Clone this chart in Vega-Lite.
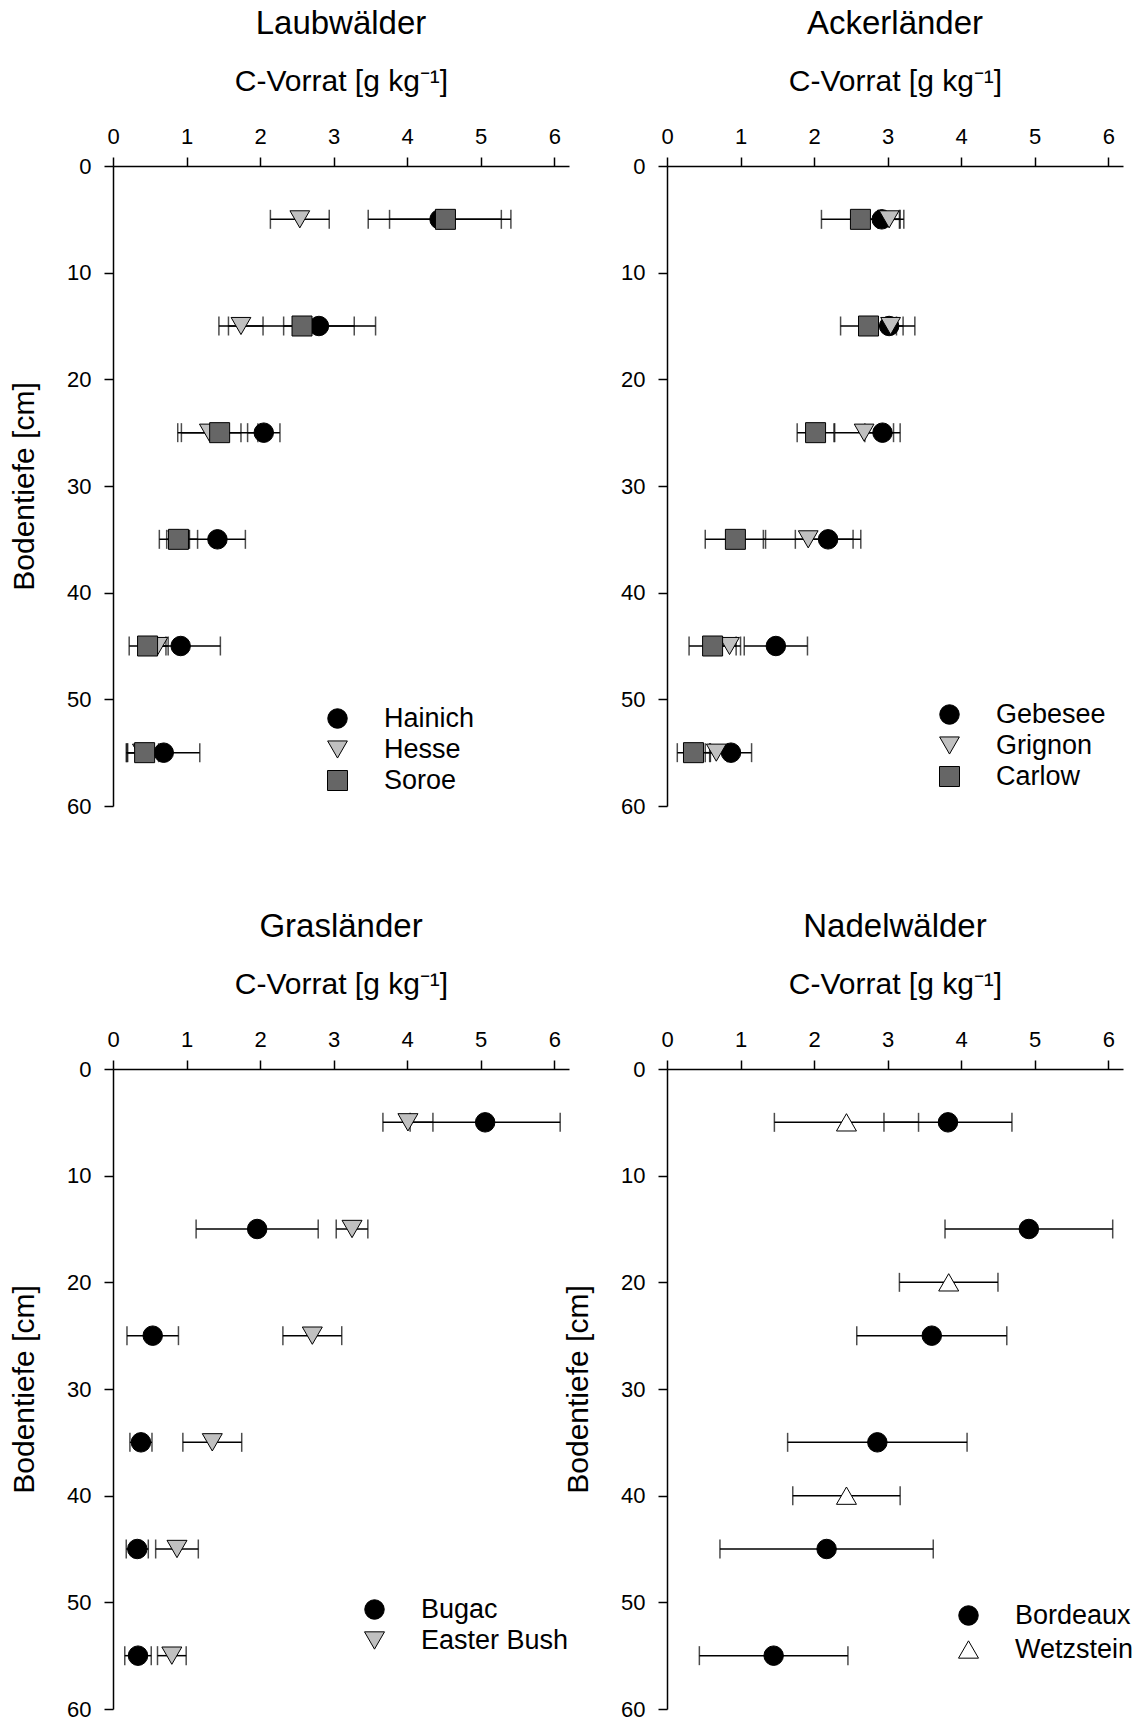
{
  "$schema": "https://vega.github.io/schema/vega-lite/v6.json",
  "autosize": {"type": "pad"},
  "padding": {"left": 9, "top": 8, "right": 0, "bottom": 0},
  "background": "white",
  "datasets": {
    "laub": [
      {"site": "Hainich", "depth": 5, "c": 4.44, "err": 0.97},
      {"site": "Hainich", "depth": 15, "c": 2.80, "err": 0.48},
      {"site": "Hainich", "depth": 25, "c": 2.05, "err": 0.22},
      {"site": "Hainich", "depth": 35, "c": 1.42, "err": 0.38},
      {"site": "Hainich", "depth": 45, "c": 0.92, "err": 0.54},
      {"site": "Hainich", "depth": 55, "c": 0.69, "err": 0.49},
      {"site": "Hesse", "depth": 5, "c": 2.54, "err": 0.40},
      {"site": "Hesse", "depth": 15, "c": 1.74, "err": 0.30},
      {"site": "Hesse", "depth": 25, "c": 1.31, "err": 0.43},
      {"site": "Hesse", "depth": 35, "c": 0.88, "err": 0.15},
      {"site": "Hesse", "depth": 45, "c": 0.61, "err": 0.14},
      {"site": "Hesse", "depth": 55, "c": 0.40, "err": 0.22},
      {"site": "Soroe", "depth": 5, "c": 4.52, "err": 0.76},
      {"site": "Soroe", "depth": 15, "c": 2.57, "err": 1.00},
      {"site": "Soroe", "depth": 25, "c": 1.45, "err": 0.52},
      {"site": "Soroe", "depth": 35, "c": 0.89, "err": 0.26},
      {"site": "Soroe", "depth": 45, "c": 0.47, "err": 0.25},
      {"site": "Soroe", "depth": 55, "c": 0.43, "err": 0.24}
    ],
    "acker": [
      {"site": "Gebesee", "depth": 5, "c": 2.92, "err": 0.30},
      {"site": "Gebesee", "depth": 15, "c": 3.02, "err": 0.35},
      {"site": "Gebesee", "depth": 25, "c": 2.93, "err": 0.24},
      {"site": "Gebesee", "depth": 35, "c": 2.19, "err": 0.445},
      {"site": "Gebesee", "depth": 45, "c": 1.48, "err": 0.43},
      {"site": "Gebesee", "depth": 55, "c": 0.87, "err": 0.28},
      {"site": "Grignon", "depth": 5, "c": 3.02, "err": 0.15},
      {"site": "Grignon", "depth": 15, "c": 3.04, "err": 0.17},
      {"site": "Grignon", "depth": 25, "c": 2.68, "err": 0.40},
      {"site": "Grignon", "depth": 35, "c": 1.92, "err": 0.61},
      {"site": "Grignon", "depth": 45, "c": 0.85, "err": 0.15},
      {"site": "Grignon", "depth": 55, "c": 0.67, "err": 0.15},
      {"site": "Carlow", "depth": 5, "c": 2.63, "err": 0.53},
      {"site": "Carlow", "depth": 15, "c": 2.74, "err": 0.38},
      {"site": "Carlow", "depth": 25, "c": 2.02, "err": 0.25},
      {"site": "Carlow", "depth": 35, "c": 0.93, "err": 0.41},
      {"site": "Carlow", "depth": 45, "c": 0.62, "err": 0.32},
      {"site": "Carlow", "depth": 55, "c": 0.36, "err": 0.22}
    ],
    "gras": [
      {"site": "Bugac", "depth": 5, "c": 5.06, "err": 1.02},
      {"site": "Bugac", "depth": 15, "c": 1.96, "err": 0.83},
      {"site": "Bugac", "depth": 25, "c": 0.54, "err": 0.35},
      {"site": "Bugac", "depth": 35, "c": 0.38, "err": 0.15},
      {"site": "Bugac", "depth": 45, "c": 0.33, "err": 0.15},
      {"site": "Bugac", "depth": 55, "c": 0.34, "err": 0.18},
      {"site": "Easter Bush", "depth": 5, "c": 4.01, "err": 0.34},
      {"site": "Easter Bush", "depth": 15, "c": 3.25, "err": 0.215},
      {"site": "Easter Bush", "depth": 25, "c": 2.71, "err": 0.40},
      {"site": "Easter Bush", "depth": 35, "c": 1.35, "err": 0.40},
      {"site": "Easter Bush", "depth": 45, "c": 0.87, "err": 0.29},
      {"site": "Easter Bush", "depth": 55, "c": 0.80, "err": 0.195}
    ],
    "nadel": [
      {"site": "Bordeaux", "depth": 5, "c": 3.82, "err": 0.87},
      {"site": "Bordeaux", "depth": 15, "c": 4.92, "err": 1.14},
      {"site": "Bordeaux", "depth": 25, "c": 3.60, "err": 1.02},
      {"site": "Bordeaux", "depth": 35, "c": 2.86, "err": 1.22},
      {"site": "Bordeaux", "depth": 45, "c": 2.17, "err": 1.45},
      {"site": "Bordeaux", "depth": 55, "c": 1.45, "err": 1.01},
      {"site": "Wetzstein", "depth": 5, "c": 2.44, "err": 0.98},
      {"site": "Wetzstein", "depth": 20, "c": 3.83, "err": 0.67},
      {"site": "Wetzstein", "depth": 40, "c": 2.44, "err": 0.73}
    ]
  },
  "columns": 2,
  "bounds": "flush",
  "spacing": {"row": 263, "column": 98},
  "resolve": {
    "scale": {"x": "independent", "y": "independent", "shape": "independent", "fill": "independent", "size": "independent"},
    "legend": {"shape": "independent", "fill": "independent", "size": "independent"},
    "axis": {"x": "independent", "y": "independent"}
  },
  "concat": [
    {
      "title": {"text": "Laubwälder"},
      "width": 456, "height": 640,
      "data": {"name": "laub"},
      "layer": [
        {
          "mark": {"type": "errorbar", "ticks": {"size": 19, "thickness": 1.5, "color": "black"}, "rule": {"strokeWidth": 1.5, "color": "black"}},
          "encoding": {
            "x": {"field": "c", "type": "quantitative", "scale": {"domain": [0, 6.2], "nice": false, "zero": false}, "axis": {"orient": "top", "title": "C-Vorrat [g kg⁻¹]", "values": [0, 1, 2, 3, 4, 5, 6], "format": "d"}},
            "xError": {"field": "err"},
            "y": {"field": "depth", "type": "quantitative", "scale": {"domain": [0, 60], "reverse": true, "nice": false}, "axis": {"title": "Bodentiefe [cm]", "values": [0, 10, 20, 30, 40, 50, 60], "format": "d"}}
          }
        },
        {
          "mark": {"type": "point", "filled": true, "stroke": "black", "strokeWidth": 1, "opacity": 1},
          "encoding": {
            "x": {"field": "c", "type": "quantitative"},
            "y": {"field": "depth", "type": "quantitative"},
            "shape": {"field": "site", "type": "nominal", "scale": {"domain": ["Hainich", "Hesse", "Soroe"], "range": ["circle", "triangle-down", "square"]}, "legend": {"legendX": 211, "legendY": 539, "encode": {"symbols": {"update": {"stroke": {"value": "black"}, "strokeWidth": {"value": 1}}}}}},
            "fill": {"field": "site", "type": "nominal", "scale": {"domain": ["Hainich", "Hesse", "Soroe"], "range": ["black", "#c0c0c0", "#666666"]}, "legend": {"legendX": 211, "legendY": 539, "encode": {"symbols": {"update": {"stroke": {"value": "black"}, "strokeWidth": {"value": 1}}}}}},
            "size": {"field": "site", "type": "nominal", "scale": {"domain": ["Hainich", "Hesse", "Soroe"], "range": [380, 400, 290]}, "legend": {"legendX": 211, "legendY": 539, "encode": {"symbols": {"update": {"stroke": {"value": "black"}, "strokeWidth": {"value": 1}}}}}}
          }
        }
      ]
    },
    {
      "title": {"text": "Ackerländer"},
      "width": 456, "height": 640,
      "data": {"name": "acker"},
      "layer": [
        {
          "mark": {"type": "errorbar", "ticks": {"size": 19, "thickness": 1.5, "color": "black"}, "rule": {"strokeWidth": 1.5, "color": "black"}},
          "encoding": {
            "x": {"field": "c", "type": "quantitative", "scale": {"domain": [0, 6.2], "nice": false, "zero": false}, "axis": {"orient": "top", "title": "C-Vorrat [g kg⁻¹]", "values": [0, 1, 2, 3, 4, 5, 6], "format": "d"}},
            "xError": {"field": "err"},
            "y": {"field": "depth", "type": "quantitative", "scale": {"domain": [0, 60], "reverse": true, "nice": false}, "axis": {"title": null, "values": [0, 10, 20, 30, 40, 50, 60], "format": "d"}}
          }
        },
        {
          "mark": {"type": "point", "filled": true, "stroke": "black", "strokeWidth": 1, "opacity": 1},
          "encoding": {
            "x": {"field": "c", "type": "quantitative"},
            "y": {"field": "depth", "type": "quantitative"},
            "shape": {"field": "site", "type": "nominal", "scale": {"domain": ["Gebesee", "Grignon", "Carlow"], "range": ["circle", "triangle-down", "square"]}, "legend": {"legendX": 269, "legendY": 535, "encode": {"symbols": {"update": {"stroke": {"value": "black"}, "strokeWidth": {"value": 1}}}}}},
            "fill": {"field": "site", "type": "nominal", "scale": {"domain": ["Gebesee", "Grignon", "Carlow"], "range": ["black", "#c0c0c0", "#666666"]}, "legend": {"legendX": 269, "legendY": 535, "encode": {"symbols": {"update": {"stroke": {"value": "black"}, "strokeWidth": {"value": 1}}}}}},
            "size": {"field": "site", "type": "nominal", "scale": {"domain": ["Gebesee", "Grignon", "Carlow"], "range": [380, 400, 290]}, "legend": {"legendX": 269, "legendY": 535, "encode": {"symbols": {"update": {"stroke": {"value": "black"}, "strokeWidth": {"value": 1}}}}}}
          }
        }
      ]
    },
    {
      "title": {"text": "Grasländer"},
      "width": 456, "height": 640,
      "data": {"name": "gras"},
      "layer": [
        {
          "mark": {"type": "errorbar", "ticks": {"size": 19, "thickness": 1.5, "color": "black"}, "rule": {"strokeWidth": 1.5, "color": "black"}},
          "encoding": {
            "x": {"field": "c", "type": "quantitative", "scale": {"domain": [0, 6.2], "nice": false, "zero": false}, "axis": {"orient": "top", "title": "C-Vorrat [g kg⁻¹]", "values": [0, 1, 2, 3, 4, 5, 6], "format": "d"}},
            "xError": {"field": "err"},
            "y": {"field": "depth", "type": "quantitative", "scale": {"domain": [0, 60], "reverse": true, "nice": false}, "axis": {"title": "Bodentiefe [cm]", "values": [0, 10, 20, 30, 40, 50, 60], "format": "d"}}
          }
        },
        {
          "mark": {"type": "point", "filled": true, "stroke": "black", "strokeWidth": 1, "opacity": 1},
          "encoding": {
            "x": {"field": "c", "type": "quantitative"},
            "y": {"field": "depth", "type": "quantitative"},
            "shape": {"field": "site", "type": "nominal", "scale": {"domain": ["Bugac", "Easter Bush"], "range": ["circle", "triangle-down"]}, "legend": {"legendX": 248, "legendY": 527, "encode": {"symbols": {"update": {"stroke": {"value": "black"}, "strokeWidth": {"value": 1}}}}}},
            "fill": {"field": "site", "type": "nominal", "scale": {"domain": ["Bugac", "Easter Bush"], "range": ["black", "#c0c0c0"]}, "legend": {"legendX": 248, "legendY": 527, "encode": {"symbols": {"update": {"stroke": {"value": "black"}, "strokeWidth": {"value": 1}}}}}},
            "size": {"field": "site", "type": "nominal", "scale": {"domain": ["Bugac", "Easter Bush"], "range": [380, 400]}, "legend": {"legendX": 248, "legendY": 527, "encode": {"symbols": {"update": {"stroke": {"value": "black"}, "strokeWidth": {"value": 1}}}}}}
          }
        }
      ]
    },
    {
      "title": {"text": "Nadelwälder"},
      "width": 456, "height": 640,
      "data": {"name": "nadel"},
      "layer": [
        {
          "mark": {"type": "errorbar", "ticks": {"size": 19, "thickness": 1.5, "color": "black"}, "rule": {"strokeWidth": 1.5, "color": "black"}},
          "encoding": {
            "x": {"field": "c", "type": "quantitative", "scale": {"domain": [0, 6.2], "nice": false, "zero": false}, "axis": {"orient": "top", "title": "C-Vorrat [g kg⁻¹]", "values": [0, 1, 2, 3, 4, 5, 6], "format": "d"}},
            "xError": {"field": "err"},
            "y": {"field": "depth", "type": "quantitative", "scale": {"domain": [0, 60], "reverse": true, "nice": false}, "axis": {"title": "Bodentiefe [cm]", "values": [0, 10, 20, 30, 40, 50, 60], "format": "d"}}
          }
        },
        {
          "mark": {"type": "point", "filled": true, "stroke": "black", "strokeWidth": 1, "opacity": 1},
          "encoding": {
            "x": {"field": "c", "type": "quantitative"},
            "y": {"field": "depth", "type": "quantitative"},
            "shape": {"field": "site", "type": "nominal", "scale": {"domain": ["Bordeaux", "Wetzstein"], "range": ["circle", "triangle-up"]}, "legend": {"legendX": 288, "legendY": 533, "rowPadding": 6, "encode": {"symbols": {"update": {"stroke": {"value": "black"}, "strokeWidth": {"value": 1}}}}}},
            "fill": {"field": "site", "type": "nominal", "scale": {"domain": ["Bordeaux", "Wetzstein"], "range": ["black", "white"]}, "legend": {"legendX": 288, "legendY": 533, "rowPadding": 6, "encode": {"symbols": {"update": {"stroke": {"value": "black"}, "strokeWidth": {"value": 1}}}}}},
            "size": {"field": "site", "type": "nominal", "scale": {"domain": ["Bordeaux", "Wetzstein"], "range": [380, 400]}, "legend": {"legendX": 288, "legendY": 533, "rowPadding": 6, "encode": {"symbols": {"update": {"stroke": {"value": "black"}, "strokeWidth": {"value": 1}}}}}}
          }
        }
      ]
    }
  ],
  "config": {
    "font": "Liberation Sans",
    "view": {"stroke": null},
    "title": {"fontSize": 33, "fontWeight": "normal", "color": "black", "anchor": "middle", "offset": 25},
    "axis": {
      "grid": false,
      "domainColor": "black", "domainWidth": 1.5,
      "tickColor": "black", "tickWidth": 1.5, "tickSize": 9,
      "labelFontSize": 22, "labelColor": "black", "labelFlush": false, "labelOverlap": false,
      "titleFontSize": 30, "titleFontWeight": "normal", "titleColor": "black"
    },
    "axisX": {"labelPadding": 9, "titlePadding": 29},
    "axisY": {"labelPadding": 13, "titleX": -80, "titleY": 320, "titleBaseline": "alphabetic"},
    "legend": {
      "orient": "none", "title": null, "padding": 0,
      "labelFontSize": 27, "labelColor": "black", "labelOffset": 33, "rowPadding": 3,
      "symbolStrokeColor": "black", "symbolStrokeWidth": 1, "symbolOpacity": 1
    }
  }
}
